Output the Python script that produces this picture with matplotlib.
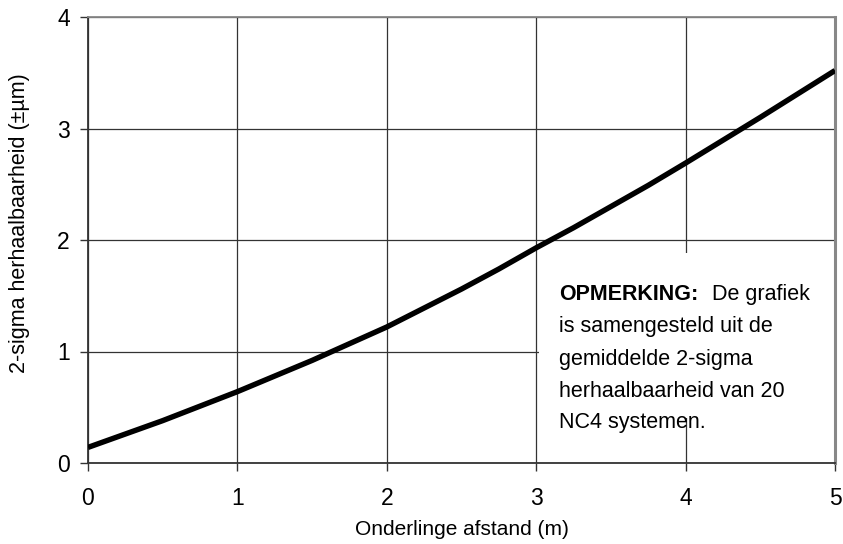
import matplotlib
matplotlib.use("Agg")
import matplotlib.pyplot as plt
from matplotlib.patches import Rectangle

plt.rcParams['font.family'] = ['Liberation Sans', 'DejaVu Sans']

# Data
x_vals = [0.0, 0.25, 0.5, 0.75, 1.0, 1.25, 1.5, 1.75, 2.0, 2.25, 2.5,
          2.75, 3.0, 3.25, 3.5, 3.75, 4.0, 4.25, 4.5, 4.75, 5.0]
y_vals = [0.14, 0.26, 0.38, 0.51, 0.64, 0.78, 0.92, 1.07, 1.22, 1.39, 1.56,
          1.74, 1.93, 2.11, 2.30, 2.49, 2.69, 2.895, 3.10, 3.31, 3.52]
x_ticks = [0, 1, 2, 3, 4, 5]
y_ticks = [0, 1, 2, 3, 4]
x_label = "Onderlinge afstand (m)"
y_label = "2-sigma herhaalbaarheid (±µm)"
note_bold = "OPMERKING:"
note_first_rest = "De grafiek"
note_lines = ["is samengesteld uit de",
              "gemiddelde 2-sigma",
              "herhaalbaarheid van 20",
              "NC4 systemen."]

fig = plt.figure(figsize=(8.43, 5.44), dpi=100)
ax = fig.add_axes([88/843, (544-463)/544, (835-88)/843, (463-17)/544])

ax.set_xlim(0, 5)
ax.set_ylim(0, 4)
ax.set_xticks(x_ticks)
ax.set_yticks(y_ticks)
ax.set_xticklabels([str(t) for t in x_ticks], fontsize=16.5)
ax.set_yticklabels([str(t) for t in y_ticks], fontsize=16.5)
ax.tick_params(direction='out', length=6, width=1, color='#333333')
ax.tick_params(axis='x', pad=11)
ax.tick_params(axis='y', pad=7)

ax.grid(True, color='#333333', linewidth=0.9, zorder=0.5)
ax.set_axisbelow(True)

for side in ['left', 'bottom']:
    ax.spines[side].set_color('#333333')
    ax.spines[side].set_linewidth(1.3)
ax.spines['top'].set_color('#888888')
ax.spines['top'].set_linewidth(1.3)
ax.spines['right'].set_color('#888888')
ax.spines['right'].set_linewidth(2.2)

# White note box hiding gridlines
box = Rectangle((3.02, 0.40), 1.98, 1.48, facecolor='white', edgecolor='none', zorder=1)
ax.add_patch(box)

ax.plot(x_vals, y_vals, color='black', linewidth=3.9, zorder=3, solid_capstyle='butt')

ax.set_xlabel(x_label, fontsize=15)
ax.set_ylabel(y_label, fontsize=15.5)
ax.xaxis.set_label_coords(0.5, -0.128)
ax.yaxis.set_label_coords(-0.078, 0.538)

# Note text
ax.text(3.153, 1.515, note_bold, fontsize=15.5, fontweight='bold', va='center', ha='left', zorder=4)
ax.text(4.177, 1.515, note_first_rest, fontsize=15.5, va='center', ha='left', zorder=4)
ys = [1.222, 0.93, 0.645, 0.36]
for line, yy in zip(note_lines, ys):
    ax.text(3.153, yy, line, fontsize=15.5, va='center', ha='left', zorder=4)

fig.savefig("out.png", dpi=100)
